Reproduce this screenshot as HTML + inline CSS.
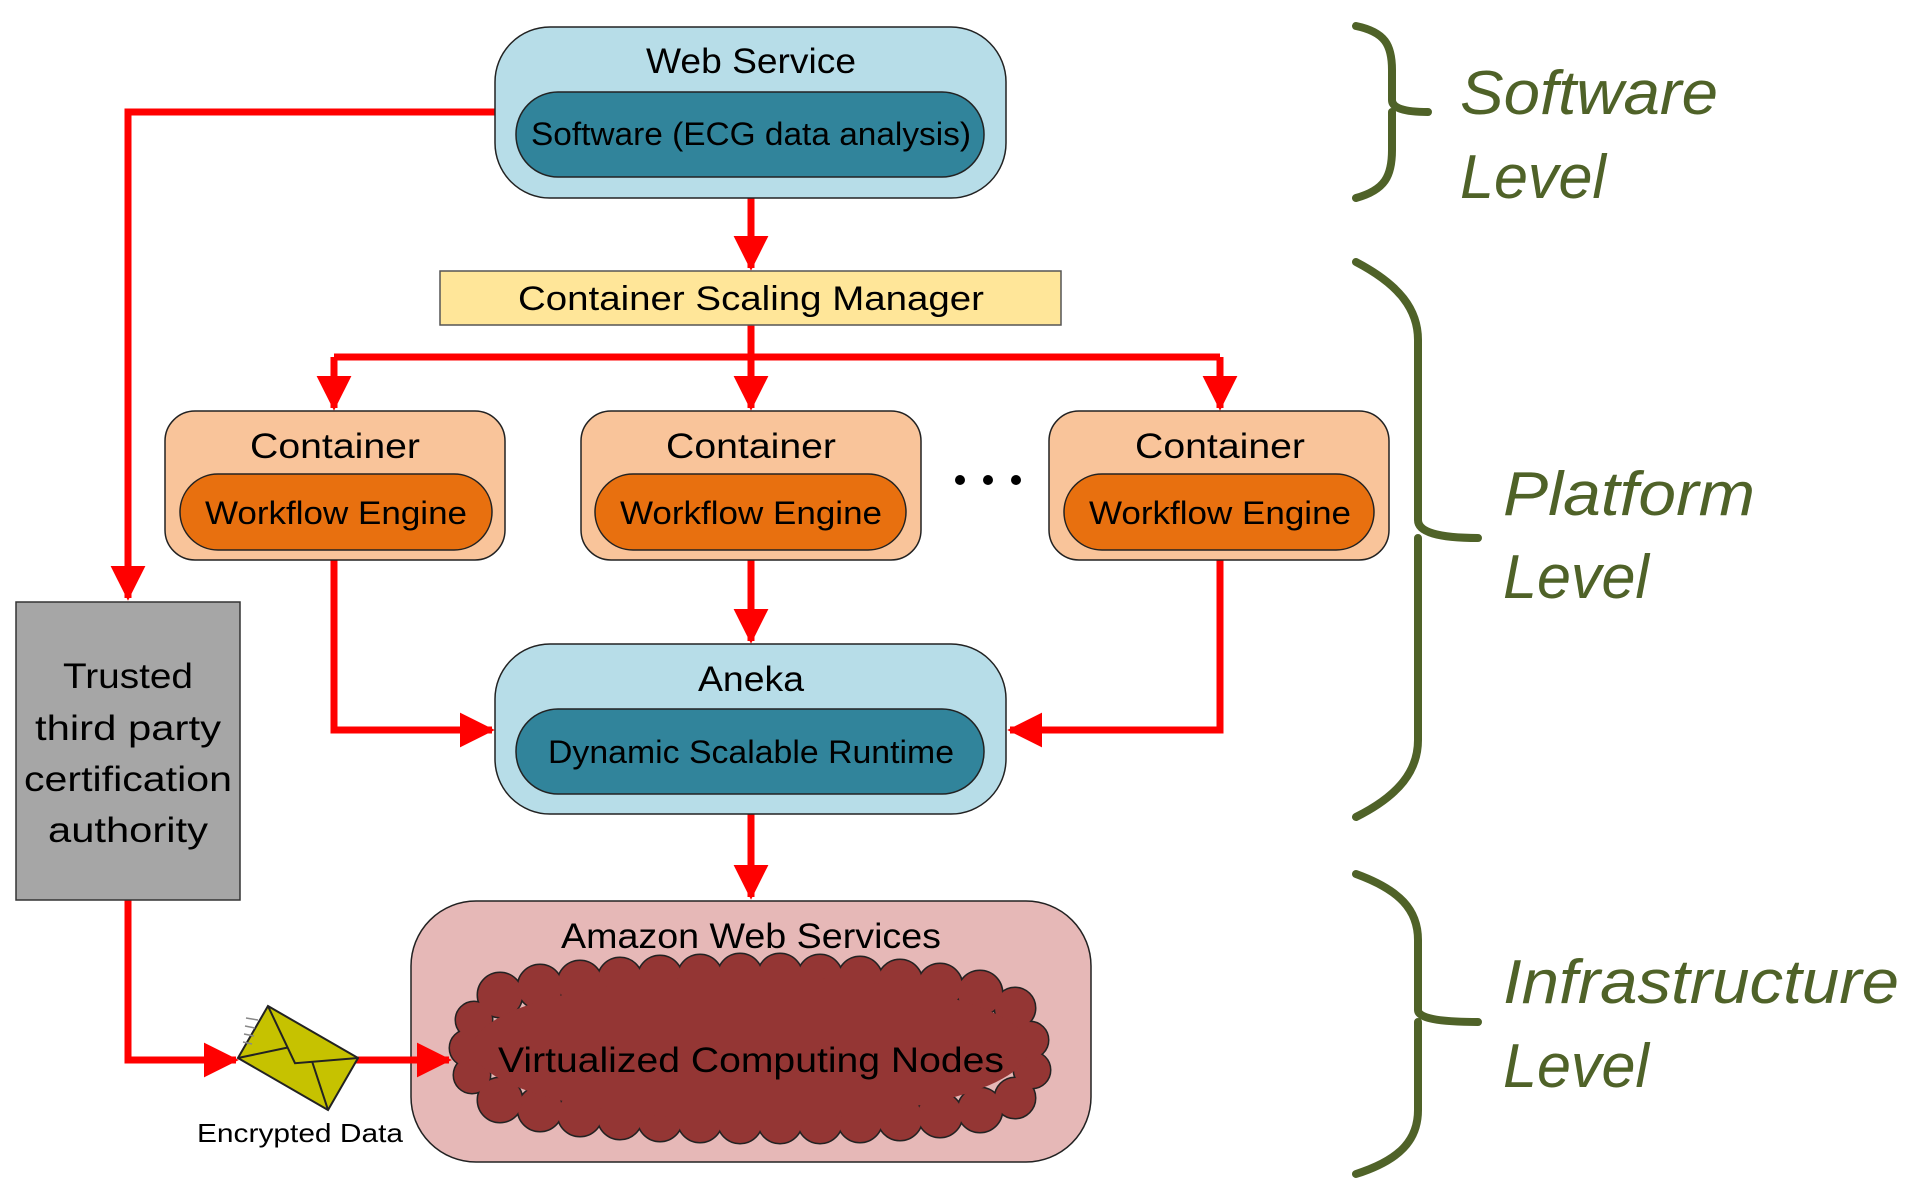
<!DOCTYPE html>
<html><head><meta charset="utf-8"><style>html,body{margin:0;padding:0;background:#fff}svg{display:block}text{font-family:"Liberation Sans",sans-serif}</style></head><body>
<svg width="1911" height="1187" viewBox="0 0 1911 1187" xmlns="http://www.w3.org/2000/svg">
<defs>
<marker id="ah" markerWidth="5" markerHeight="5" refX="4.6" refY="2.5" orient="auto" markerUnits="strokeWidth"><path d="M0,0 L5,2.5 L0,5 z" fill="#ff0000"/></marker>
<g id="cc">
<circle cx="500" cy="995" r="22"/><circle cx="540" cy="987" r="22"/><circle cx="580" cy="983" r="22"/><circle cx="620" cy="980" r="22"/><circle cx="660" cy="978" r="22"/><circle cx="700" cy="977" r="22"/><circle cx="740" cy="976" r="22"/><circle cx="780" cy="976" r="22"/><circle cx="820" cy="977" r="22"/><circle cx="860" cy="979" r="22"/><circle cx="900" cy="982" r="22"/><circle cx="940" cy="986" r="22"/><circle cx="980" cy="993" r="22"/><circle cx="1015" cy="1008" r="20"/>
<circle cx="1030" cy="1040" r="18"/><circle cx="1032" cy="1070" r="18"/><circle cx="1015" cy="1098" r="20"/>
<circle cx="980" cy="1110" r="22"/><circle cx="940" cy="1115" r="22"/><circle cx="900" cy="1118" r="22"/><circle cx="860" cy="1120" r="22"/><circle cx="820" cy="1121" r="22"/><circle cx="780" cy="1121" r="22"/><circle cx="740" cy="1121" r="22"/><circle cx="700" cy="1120" r="22"/><circle cx="660" cy="1119" r="22"/><circle cx="620" cy="1117" r="22"/><circle cx="580" cy="1114" r="22"/><circle cx="540" cy="1109" r="22"/><circle cx="500" cy="1100" r="22"/>
<circle cx="472" cy="1075" r="18"/><circle cx="468" cy="1048" r="18"/><circle cx="474" cy="1020" r="18"/>
</g>
</defs>
<g fill="none" stroke="#ff0000" stroke-width="7">
<path d="M495,112 H128 V598" marker-end="url(#ah)"/>
<path d="M751,198 V268" marker-end="url(#ah)"/>
<path d="M334,357 H1220"/>
<path d="M751,325 V357"/>
<path d="M334,357 V408" marker-end="url(#ah)"/>
<path d="M751,357 V408" marker-end="url(#ah)"/>
<path d="M1220,357 V408" marker-end="url(#ah)"/>
<path d="M334,560 V730 H492" marker-end="url(#ah)"/>
<path d="M751,560 V641" marker-end="url(#ah)"/>
<path d="M1220,560 V730 H1010" marker-end="url(#ah)"/>
<path d="M751,814 V897" marker-end="url(#ah)"/>
<path d="M128,900 V1060 H236" marker-end="url(#ah)"/>
</g>
<!-- Web Service -->
<rect x="495" y="27" width="511" height="171" rx="55" fill="#b7dde8" stroke="#222" stroke-width="1.5"/>
<text x="751" y="73" font-size="35" text-anchor="middle" textLength="210" lengthAdjust="spacingAndGlyphs">Web Service</text>
<rect x="516" y="92" width="468" height="85" rx="42" fill="#31849b" stroke="#222" stroke-width="1.5"/>
<text x="751" y="145" font-size="32" text-anchor="middle" textLength="440" lengthAdjust="spacingAndGlyphs">Software (ECG data analysis)</text>
<!-- CSM -->
<rect x="440" y="271" width="621" height="54" fill="#ffe699" stroke="#555" stroke-width="1.5"/>
<text x="751" y="310" font-size="34" text-anchor="middle" textLength="466" lengthAdjust="spacingAndGlyphs">Container Scaling Manager</text>
<!-- Containers -->
<g>
<rect x="165" y="411" width="340" height="149" rx="30" fill="#f9c49a" stroke="#222" stroke-width="1.5"/>
<text x="335" y="458" font-size="35" text-anchor="middle" textLength="170" lengthAdjust="spacingAndGlyphs">Container</text>
<rect x="180" y="474" width="312" height="76" rx="38" fill="#e8700f" stroke="#222" stroke-width="1.5"/>
<text x="336" y="524" font-size="32" text-anchor="middle" textLength="262" lengthAdjust="spacingAndGlyphs">Workflow Engine</text>
<rect x="581" y="411" width="340" height="149" rx="30" fill="#f9c49a" stroke="#222" stroke-width="1.5"/>
<text x="751" y="458" font-size="35" text-anchor="middle" textLength="170" lengthAdjust="spacingAndGlyphs">Container</text>
<rect x="595" y="474" width="311" height="76" rx="38" fill="#e8700f" stroke="#222" stroke-width="1.5"/>
<text x="751" y="524" font-size="32" text-anchor="middle" textLength="262" lengthAdjust="spacingAndGlyphs">Workflow Engine</text>
<rect x="1049" y="411" width="340" height="149" rx="30" fill="#f9c49a" stroke="#222" stroke-width="1.5"/>
<text x="1220" y="458" font-size="35" text-anchor="middle" textLength="170" lengthAdjust="spacingAndGlyphs">Container</text>
<rect x="1064" y="474" width="310" height="76" rx="38" fill="#e8700f" stroke="#222" stroke-width="1.5"/>
<text x="1220" y="524" font-size="32" text-anchor="middle" textLength="262" lengthAdjust="spacingAndGlyphs">Workflow Engine</text>
</g>
<circle cx="960" cy="480" r="5" fill="#000"/><circle cx="988" cy="480" r="5" fill="#000"/><circle cx="1016" cy="480" r="5" fill="#000"/>
<!-- Aneka -->
<rect x="495" y="644" width="511" height="170" rx="55" fill="#b7dde8" stroke="#222" stroke-width="1.5"/>
<text x="751" y="691" font-size="35" text-anchor="middle" textLength="106" lengthAdjust="spacingAndGlyphs">Aneka</text>
<rect x="516" y="709" width="468" height="85" rx="42" fill="#31849b" stroke="#222" stroke-width="1.5"/>
<text x="751" y="763" font-size="32" text-anchor="middle" textLength="406" lengthAdjust="spacingAndGlyphs">Dynamic Scalable Runtime</text>
<!-- Trusted -->
<rect x="16" y="602" width="224" height="298" fill="#a6a6a6" stroke="#333" stroke-width="1.5"/>
<g font-size="35" text-anchor="middle">
<text x="128" y="688" textLength="130" lengthAdjust="spacingAndGlyphs">Trusted</text>
<text x="128" y="740" textLength="186" lengthAdjust="spacingAndGlyphs">third party</text>
<text x="128" y="791" textLength="208" lengthAdjust="spacingAndGlyphs">certification</text>
<text x="128" y="842" textLength="160" lengthAdjust="spacingAndGlyphs">authority</text>
</g>
<!-- AWS -->
<rect x="411" y="901" width="680" height="261" rx="65" fill="#e6b8b7" stroke="#222" stroke-width="1.5"/>
<text x="751" y="948" font-size="35" text-anchor="middle" textLength="380" lengthAdjust="spacingAndGlyphs">Amazon Web Services</text>
<use href="#cc" fill="#222" stroke="#222" stroke-width="3"/>
<use href="#cc" fill="#943634"/>
<ellipse cx="751" cy="1048" rx="278" ry="72" fill="#943634"/>
<text x="751" y="1072" font-size="35" text-anchor="middle" textLength="506" lengthAdjust="spacingAndGlyphs">Virtualized Computing Nodes</text>
<path d="M355,1060 H449" fill="none" stroke="#ff0000" stroke-width="7" marker-end="url(#ah)"/>
<!-- Envelope -->
<g transform="translate(298,1058) rotate(30)">
<rect x="-52" y="-30" width="104" height="60" fill="#c6c200" stroke="#222" stroke-width="2"/>
<path d="M-52,-30 L0,6 L52,-30 M-52,30 L-14,-4 M52,30 L14,-4" fill="none" stroke="#222" stroke-width="2"/>
</g>
<g stroke="#888" stroke-width="1.5"><path d="M246,1018 L258,1020 M245,1026 L255,1028 M244,1034 L254,1036 M243,1042 L252,1044"/></g>
<text x="300" y="1142" font-size="26" text-anchor="middle" textLength="206" lengthAdjust="spacingAndGlyphs">Encrypted Data</text>
<!-- Braces -->
<g fill="none" stroke="#4f6228" stroke-width="8" stroke-linecap="round">
<path d="M1356,26 C1385,32 1392,45 1392,70 V100 Q1392,112 1428,112 M1392,112 V150 C1392,176 1385,190 1356,198"/>
<path d="M1356,262 C1400,285 1418,310 1418,340 V520 Q1418,538 1478,538 M1418,538 V740 C1418,770 1400,795 1356,817"/>
<path d="M1356,874 C1400,890 1418,910 1418,940 V1010 Q1418,1022 1478,1022 M1418,1022 V1110 C1418,1140 1400,1160 1356,1174"/>
</g>
<g fill="#4f6228" font-style="italic" font-size="62">
<text x="1460" y="114" textLength="258" lengthAdjust="spacingAndGlyphs">Software</text>
<text x="1460" y="198" textLength="146" lengthAdjust="spacingAndGlyphs">Level</text>
<text x="1503" y="515" textLength="252" lengthAdjust="spacingAndGlyphs">Platform</text>
<text x="1503" y="598" textLength="146" lengthAdjust="spacingAndGlyphs">Level</text>
<text x="1503" y="1003" textLength="396" lengthAdjust="spacingAndGlyphs">Infrastructure</text>
<text x="1503" y="1087" textLength="146" lengthAdjust="spacingAndGlyphs">Level</text>
</g>
</svg>
</body></html>
